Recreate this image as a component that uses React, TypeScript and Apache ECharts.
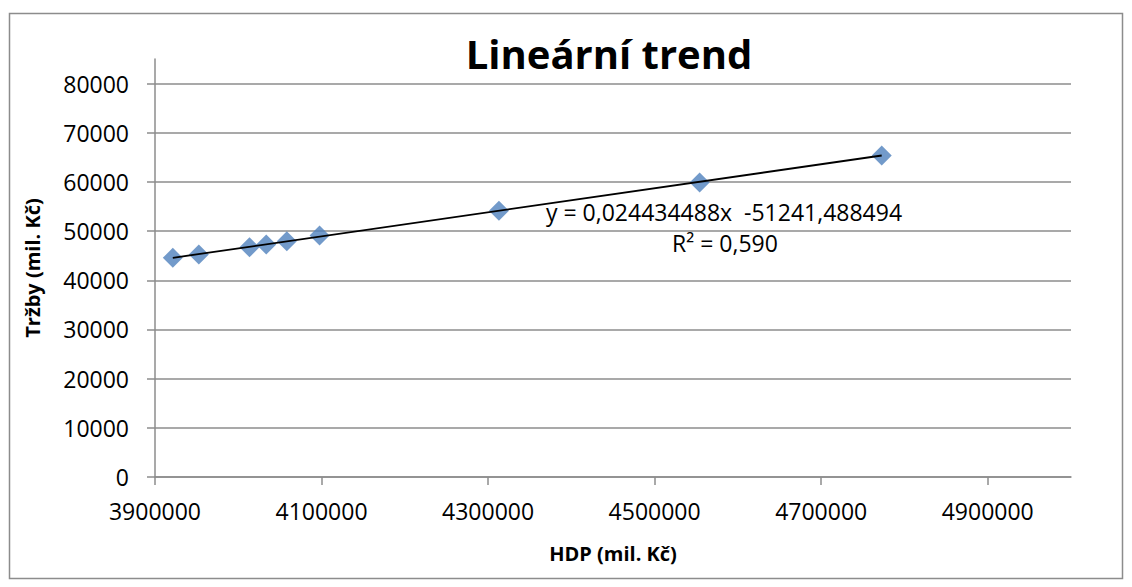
import React, { useEffect, useRef } from "react";
import * as echarts from "echarts";

const hdp = [3921400, 3952600, 4013500, 4033600, 4058300, 4097600, 4313000, 4554000, 4772700];
const trzby = [44560, 45230, 46710, 47260, 47930, 49090, 54160, 59900, 65380];
const xTicks = [3900000, 4100000, 4300000, 4500000, 4700000, 4900000];
const yTicks = [0, 10000, 20000, 30000, 40000, 50000, 60000, 70000, 80000];
const slope = 0.024434488;
const intercept = -51241.488494;
const titleText = "Lineární trend";
const xName = "HDP (mil. Kč)";
const yName = "Tržby (mil. Kč)";
const eqText = "y = 0,024434488x \u00A0-51241,488494";
const r2Text = "R² = 0,590";

const FONT = "'Open Sans', 'Noto Sans', sans-serif";
const GRID = "#8c8c8c";

export default function App() {
  const ref = useRef<HTMLDivElement>(null);
  useEffect(() => {
    document.body.style.margin = "0";
    const chart = echarts.init(ref.current!, null, { renderer: "svg" });
    const xMin = Math.min(...hdp);
    const xMax = Math.max(...hdp);
    const trend = [
      [xMin, slope * xMin + intercept],
      [xMax, slope * xMax + intercept],
    ];
    chart.setOption({
      animation: false,
      backgroundColor: "#ffffff",
      textStyle: { fontFamily: FONT },
      grid: { left: 155, right: 61, top: 59, bottom: 110, containLabel: false },
      xAxis: {
        type: "value",
        min: 3900000,
        max: 5000000,
        name: xName,
        nameLocation: "middle",
        nameGap: 66,
        nameTextStyle: { fontFamily: FONT, fontSize: 20, fontWeight: "bold", color: "#000" },
        axisLine: { show: true, lineStyle: { color: GRID, width: 1.5 } },
        axisTick: { show: true, length: 8, customValues: xTicks, lineStyle: { color: GRID, width: 1.5 } },
        axisLabel: {
          customValues: xTicks,
          margin: 22,
          fontFamily: FONT,
          fontSize: 23,
          color: "#000",
          formatter: (v: number) => String(v),
        },
        splitLine: { show: false },
      },
      yAxis: {
        type: "value",
        min: 0,
        max: 85000,
        name: yName,
        nameLocation: "middle",
        nameGap: 113,
        nameTextStyle: { fontFamily: FONT, fontSize: 20, fontWeight: "bold", color: "#000" },
        axisLine: { show: true, lineStyle: { color: GRID, width: 1.5 } },
        axisTick: { show: true, length: 8, customValues: yTicks, lineStyle: { color: GRID, width: 1.5 } },
        axisLabel: {
          customValues: yTicks,
          margin: 26,
          fontFamily: FONT,
          fontSize: 23,
          color: "#000",
          formatter: (v: number) => String(v),
        },
        splitLine: { show: true, lineStyle: { color: GRID, width: 1.5 } },
      },
      graphic: [
        {
          type: "rect",
          shape: { x: 9.5, y: 13.5, width: 1113, height: 565 },
          style: { fill: "none", stroke: GRID, lineWidth: 1.5 },
          silent: true,
        },
        {
          type: "text",
          x: 609,
          y: 53,
          style: {
            text: titleText,
            fontFamily: FONT,
            fontSize: 40,
            fontWeight: "bold",
            fill: "#000",
            textAlign: "center",
            textVerticalAlign: "middle",
          },
        },
        {
          type: "text",
          x: 724,
          y: 212,
          z: 10,
          style: {
            text: eqText,
            fontFamily: FONT,
            fontSize: 23,
            fill: "#000",
            textAlign: "center",
            textVerticalAlign: "middle",
          },
        },
        {
          type: "text",
          x: 725,
          y: 243,
          z: 10,
          style: {
            text: r2Text,
            fontFamily: FONT,
            fontSize: 23,
            fill: "#000",
            textAlign: "center",
            textVerticalAlign: "middle",
          },
        },
      ],
      series: [
        {
          type: "scatter",
          data: hdp.map((x, i) => [x, trzby[i]]),
          symbol: "diamond",
          symbolSize: 20,
          itemStyle: { color: "#4f81bd" },
          z: 2,
        },
        {
          type: "line",
          data: trend,
          symbol: "none",
          lineStyle: { color: "#000", width: 1.8 },
          z: 3,
        },
      ],
    });
    return () => chart.dispose();
  }, []);
  return <div ref={ref} style={{ width: 1132, height: 587 }} />;
}
